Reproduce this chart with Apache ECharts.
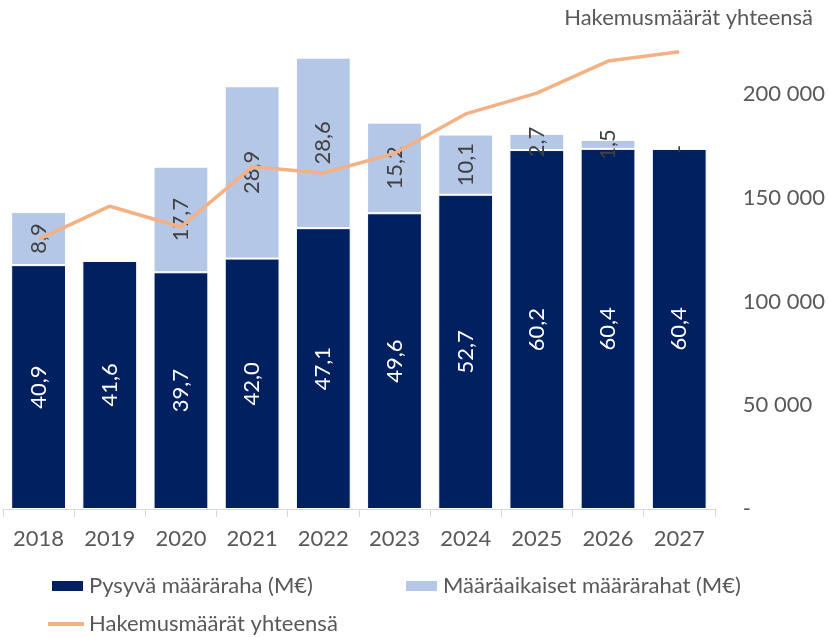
<!DOCTYPE html>
<html>
<head>
<meta charset="utf-8">
<script src="https://cdn.jsdelivr.net/npm/echarts@6/dist/echarts.min.js"></script>
<style>
  html, body { margin: 0; padding: 0; background: #fff; }
  #chart { width: 828px; height: 637px; }
</style>
</head>
<body>
<div id="chart"></div>
<script>
  // vuodet
  var years = ['2018', '2019', '2020', '2021', '2022', '2023', '2024', '2025', '2026', '2027']
  // Pysyvä määräraha (M€)
  var pysyva = [40.9, 41.6, 39.7, 42.0, 47.1, 49.6, 52.7, 60.2, 60.4, 60.4]
  // Määräaikaiset määrärahat (M€), 2019 tyhjä
  var maaraaikaiset = [8.9, null, 17.7, 28.9, 28.6, 15.2, 10.1, 2.7, 1.5, 0]
  // Hakemusmäärät yhteensä
  var hakemukset = [130000, 146000, 136000, 165000, 162000, 171500, 190500, 200500, 216000, 220500]
  var rightTicks = [0, 50000, 100000, 150000, 200000]

  var FONT = 'Lato, "Open Sans", sans-serif'
  var GREY = '#595959'
  var FS = 22

  function fi(v) {
    if (v === 0) return '-'
    return v.toFixed(1).replace('.', ',')
  }

  var myChart = echarts.init(document.getElementById('chart'))

  var option = {
    animation: false,
    textStyle: { fontFamily: FONT },
    title: {
      text: 'Hakemusmäärät yhteensä',
      right: 10,
      top: 2,
      textStyle: { fontSize: FS, fontWeight: 'normal', color: GREY, fontFamily: FONT }
    },
    grid: { left: 3, right: 111, top: 32, bottom: 128 },
    legend: [{
      left: 50, top: 575, padding: 0,
      itemWidth: 33, itemHeight: 12,
      textStyle: { fontSize: FS, color: GREY, fontFamily: FONT },
      data: [{ name: 'Pysyvä määräraha (M€)', icon: 'rect' }]
    }, {
      left: 404, top: 575, padding: 0,
      itemWidth: 33, itemHeight: 12,
      textStyle: { fontSize: FS, color: GREY, fontFamily: FONT },
      data: [{ name: 'Määräaikaiset määrärahat (M€)', icon: 'rect' }]
    }, {
      left: 48, top: 613, padding: 0,
      itemWidth: 36, itemHeight: 4,
      textStyle: { fontSize: FS, color: GREY, fontFamily: FONT },
      data: [{ name: 'Hakemusmäärät yhteensä', icon: 'rect' }]
    }],
    xAxis: [{
      type: 'category',
      data: years,
      axisLine: { lineStyle: { color: '#d9d9d9', width: 1 } },
      axisTick: { show: true, length: 8, lineStyle: { color: '#d9d9d9' } },
      axisLabel: { fontSize: FS, color: GREY, margin: 19, fontFamily: FONT }
    }],
    yAxis: [{
      type: 'value',
      show: false,
      min: 0,
      max: 80
    }, {
      type: 'value',
      position: 'right',
      min: 0,
      max: 230000,
      interval: 50000,
      axisLine: { show: false },
      axisTick: { show: false },
      splitLine: { show: false },
      axisLabel: {
        align: 'left',
        margin: 28,
        fontSize: FS,
        color: GREY,
        fontFamily: FONT,
        customValues: rightTicks,
        formatter: function (v) {
          if (v === 0) return '-'
          return String(v).replace(/\B(?=(\d{3})+(?!\d))/g, ' ')
        }
      }
    }],
    series: [{
      name: 'Pysyvä määräraha (M€)',
      type: 'bar',
      stack: 'm',
      barWidth: '77%',
      itemStyle: { color: '#002060', borderColor: '#ffffff', borderWidth: 1 },
      label: {
        show: true,
        position: 'inside',
        rotate: 90,
        color: '#ffffff',
        fontSize: FS,
        fontFamily: FONT,
        formatter: function (p) { return fi(p.value) }
      },
      data: pysyva
    }, {
      name: 'Määräaikaiset määrärahat (M€)',
      type: 'bar',
      stack: 'm',
      barWidth: '77%',
      itemStyle: { color: '#b4c7e7', borderColor: '#ffffff', borderWidth: 1 },
      label: {
        show: true,
        position: 'inside',
        rotate: 90,
        color: '#404040',
        fontSize: FS,
        fontFamily: FONT,
        formatter: function (p) { return p.value == null ? '' : fi(p.value) }
      },
      labelLayout: { hideOverlap: false },
      data: maaraaikaiset
    }, {
      name: 'Hakemusmäärät yhteensä',
      type: 'line',
      yAxisIndex: 1,
      symbol: 'none',
      z: 3,
      lineStyle: { color: '#f4b183', width: 3.5 },
      itemStyle: { color: '#f4b183' },
      data: hakemukset
    }]
  }

  myChart.setOption(option, true)
</script>
</body>
</html>
